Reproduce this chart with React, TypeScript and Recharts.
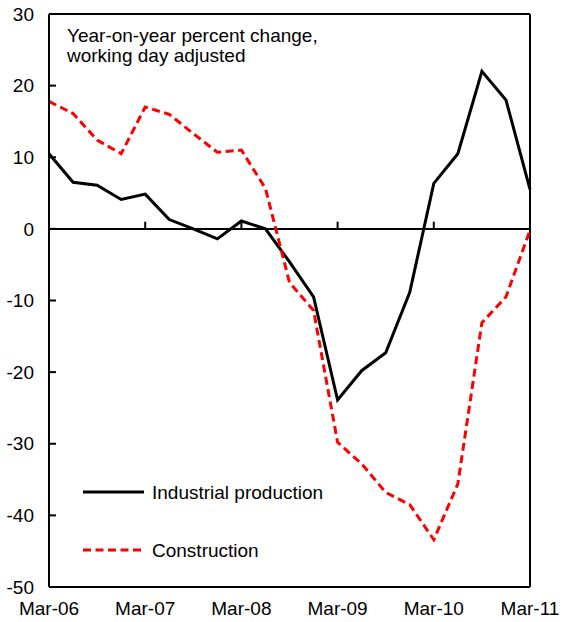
import React from "react";
import {
  LineChart,
  Line,
  XAxis,
  YAxis,
  ReferenceLine,
  Legend,
} from "recharts";

const QUARTERS = [
  "Mar-06", "Jun-06", "Sep-06", "Dec-06",
  "Mar-07", "Jun-07", "Sep-07", "Dec-07",
  "Mar-08", "Jun-08", "Sep-08", "Dec-08",
  "Mar-09", "Jun-09", "Sep-09", "Dec-09",
  "Mar-10", "Jun-10", "Sep-10", "Dec-10",
  "Mar-11",
];

const INDUSTRIAL = [
  10.5, 6.5, 6.1, 4.1, 4.85, 1.3, 0, -1.4, 1.1, 0, -4.6, -9.5,
  -23.9, -19.8, -17.3, -8.85, 6.35, 10.5, 22.0, 18.0, 5.5,
];

const CONSTRUCTION = [
  17.8, 16.1, 12.4, 10.5, 17.0, 16.0, 13.3, 10.7, 11.0, 5.65, -7.5, -11.4,
  -29.8, -32.8, -36.8, -38.5, -43.4, -35.6, -13.1, -9.5, -0.2,
];

const X_TICKS = ["Mar-06", "Mar-07", "Mar-08", "Mar-09", "Mar-10", "Mar-11"];
const Y_TICKS = [-50, -40, -30, -20, -10, 0, 10, 20, 30];
const LEGEND_ORDER = ["industrial", "construction"];

const FONT = "'Liberation Sans', Arial, sans-serif";

const data = QUARTERS.map((q, i) => ({
  q,
  industrial: INDUSTRIAL[i],
  construction: CONSTRUCTION[i],
}));

// y tick: label on the left, short mark pointing into the plot
function YTick({ x, y, payload }: any) {
  return (
    <g>
      <line x1={x} x2={x + 7} y1={y} y2={y} stroke="#000" strokeWidth={2} />
      <text
        x={x - 15}
        y={y}
        dy="0.35em"
        textAnchor="end"
        fontSize={19}
        fontFamily={FONT}
        fill="#000"
      >
        {payload.value}
      </text>
    </g>
  );
}

function LegendBox({ payload }: any) {
  const items = [...(payload || [])].sort(
    (a: any, b: any) => LEGEND_ORDER.indexOf(a.dataKey) - LEGEND_ORDER.indexOf(b.dataKey)
  );
  return (
    <svg width={260} height={90}>
      {items.map((entry: any, i: number) => (
        <g key={entry.dataKey} transform={`translate(0, ${i * 58})`}>
          <line
            x1={0}
            x2={61}
            y1={10}
            y2={10}
            stroke={entry.color}
            strokeWidth={3}
            strokeDasharray={entry.payload?.strokeDasharray}
          />
          <text x={69} y={10} dy="0.35em" fontSize={19} fontFamily={FONT} fill="#000">
            {entry.value}
          </text>
        </g>
      ))}
    </svg>
  );
}

export default function App() {
  return (
    <div
      style={{
        position: "absolute",
        left: 0,
        top: 0,
        width: 563,
        height: 622,
        background: "#fff",
      }}
    >
      <LineChart
        width={563}
        height={622}
        data={data}
        margin={{ top: 14, right: 33, bottom: 0, left: 0 }}
      >
        <XAxis
          dataKey="q"
          ticks={X_TICKS}
          interval={0}
          height={35}
          tickLine={false}
          tickMargin={9}
          axisLine={{ stroke: "#000", strokeWidth: 2 }}
          tick={{ fill: "#000", fontSize: 19, fontFamily: FONT }}
        />
        <YAxis
          type="number"
          domain={[-50, 30]}
          ticks={Y_TICKS}
          interval={0}
          width={49}
          tickLine={false}
          tickSize={0}
          tickMargin={0}
          axisLine={{ stroke: "#000", strokeWidth: 2 }}
          tick={<YTick />}
        />
        <ReferenceLine y={30} stroke="#000" strokeWidth={2} />
        <ReferenceLine x="Mar-11" stroke="#000" strokeWidth={2} />
        <ReferenceLine y={0} stroke="#000" strokeWidth={2} />
        {X_TICKS.map((t) => (
          <ReferenceLine
            key={t}
            segment={[
              { x: t, y: 0 },
              { x: t, y: 1 },
            ]}
            stroke="#000"
            strokeWidth={2}
          />
        ))}
        <Legend
          layout="horizontal"
          verticalAlign="middle"
          align="center"
          content={<LegendBox />}
          wrapperStyle={{ left: 83, top: 482, width: 260, height: 90 }}
        />
        <Line
          dataKey="industrial"
          name="Industrial production"
          stroke="#000"
          strokeWidth={3}
          dot={false}
          isAnimationActive={false}
        />
        <Line
          dataKey="construction"
          name="Construction"
          stroke="#FF0000"
          strokeWidth={3}
          strokeDasharray="8 4.5"
          dot={false}
          isAnimationActive={false}
        />
      </LineChart>
      <div
        style={{
          position: "absolute",
          left: 67,
          top: 26,
          fontFamily: FONT,
          fontSize: 19,
          lineHeight: "20px",
          color: "#000",
          pointerEvents: "none",
        }}
      >
        Year-on-year percent change,
        <br />
        working day adjusted
      </div>
    </div>
  );
}
